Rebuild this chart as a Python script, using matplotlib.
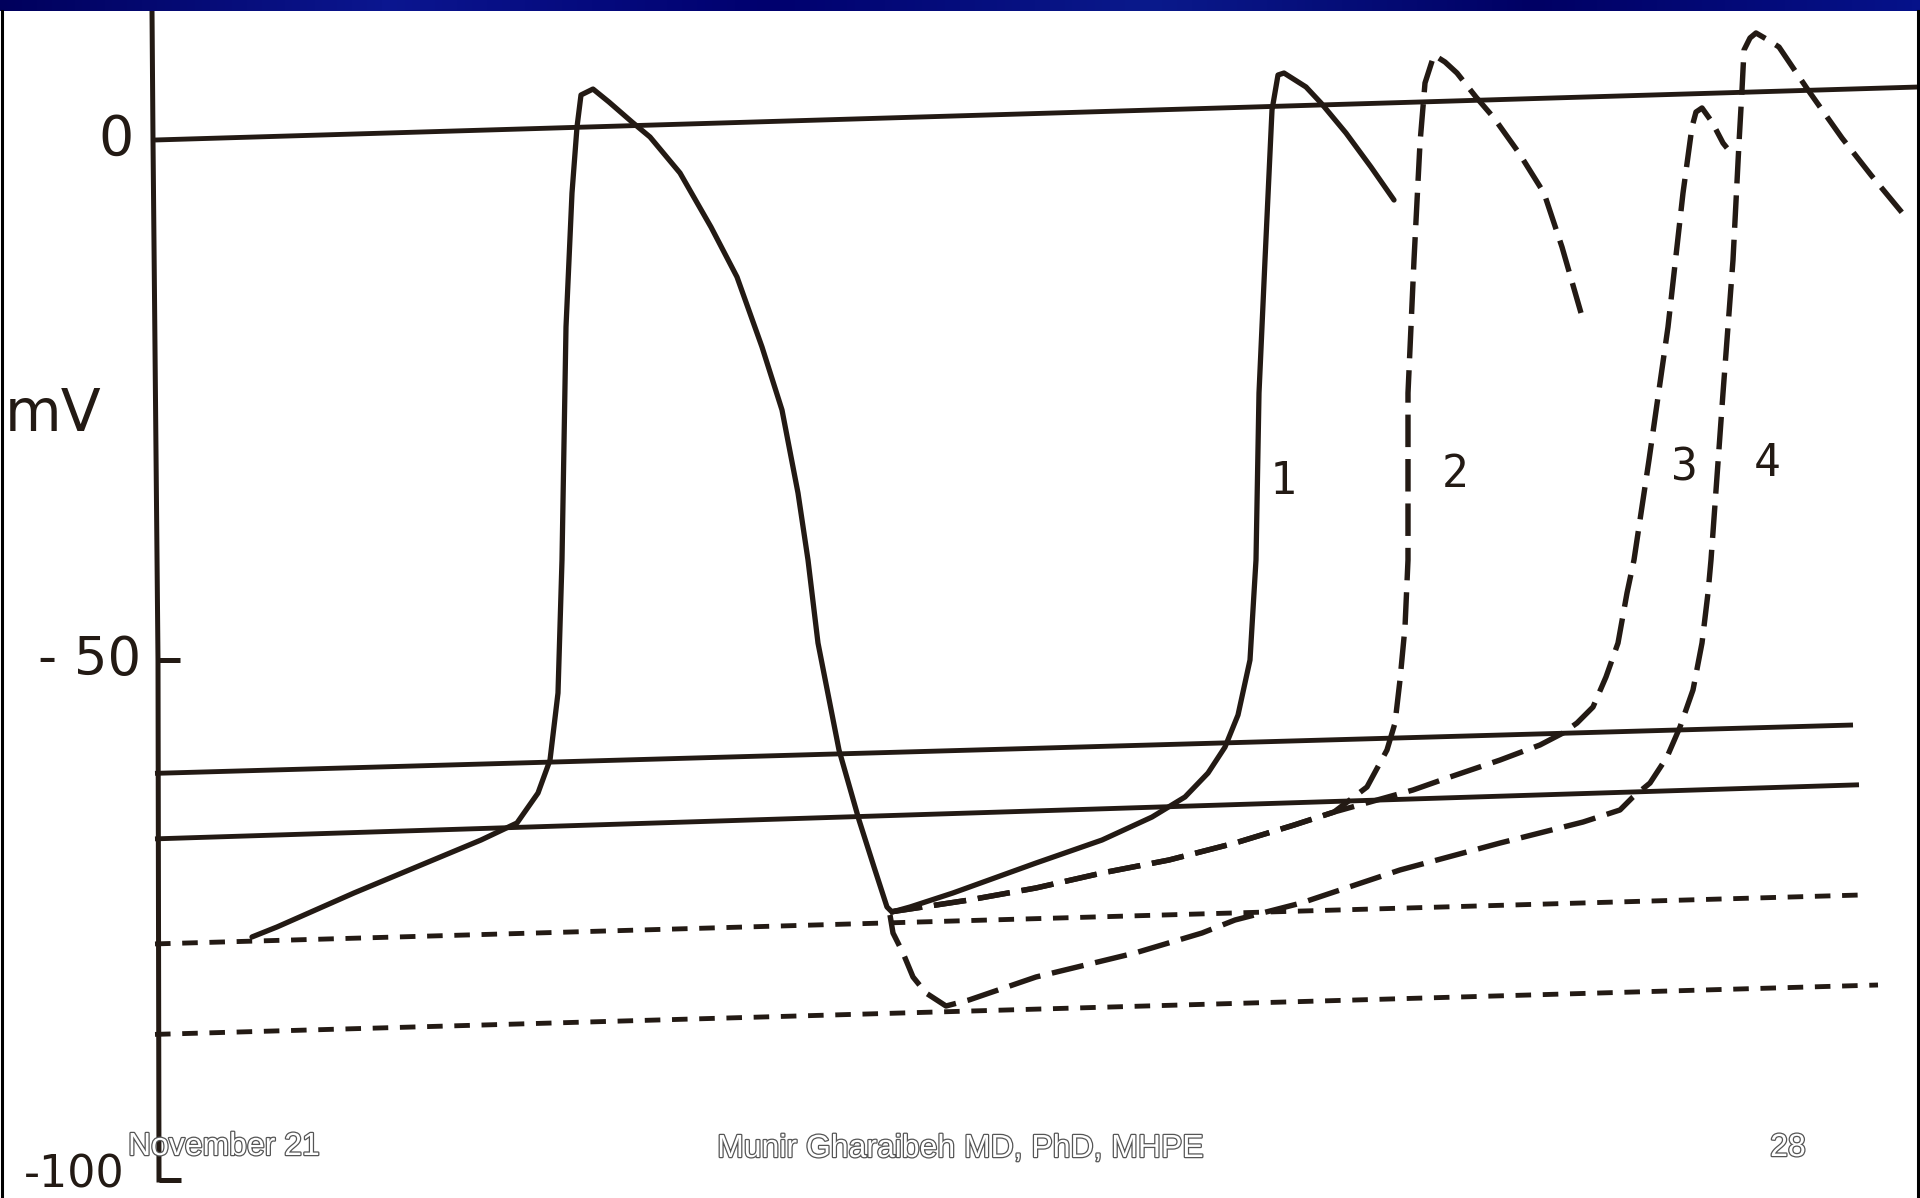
import matplotlib
matplotlib.use("Agg")
import matplotlib.pyplot as plt
import matplotlib.patheffects as pe
from matplotlib.colors import LinearSegmentedColormap
from matplotlib.lines import Line2D
import numpy as np

# Pacemaker action potentials (scanned textbook figure).
# t: time in ms from the voltage axis, v: membrane potential in mV.

# reference lines: 0 mV, two thresholds (solid), two max diastolic potentials (dashed)
zero_t = [0, 1765]
zero_v = [0.0, 5.1]
thr_hi_t = [0, 1698]
thr_hi_v = [-60.9, -56.25]
thr_lo_t = [0, 1704]
thr_lo_v = [-67.2, -62.0]
mdp_hi_t = [0, 1704]
mdp_hi_v = [-77.3, -72.6]
mdp_lo_t = [0, 1723]
mdp_lo_v = [-86.0, -81.25]

# voltage axis (the scan is a little tilted)
axis_t = [-3, -2, 3, 4]
axis_v = [12.5, 0, -50, -100]
tick_vals = [-50, -100]
tick_labels = {0: "0", -50: "- 50", -100: "-100"}

# curve 1: first action potential, normal phase 4, second action potential
c1_t = [97, 122, 199, 326, 362, 383, 395, 403, 407, 411, 417, 422, 426, 438,
        454, 477, 495, 525, 556, 582, 607, 627, 643, 653, 663, 684, 704, 719,
        732, 737, 755, 798, 881, 947, 997, 1030, 1053, 1070, 1083, 1095, 1099,
        1101, 1104, 1110, 1117, 1123, 1129, 1151, 1166, 1191, 1216, 1239]
c1_v = [-76.63, -75.67, -72.40, -67.31, -65.67, -62.79, -59.62, -53.17, -40.38,
        -17.98, -5.10, 1.25, 4.33, 4.90, 3.65, 1.73, 0.29, -3.17, -8.37, -13.17,
        -19.90, -25.96, -33.94, -40.38, -48.37, -58.65, -65.38, -69.90, -73.75,
        -74.23, -73.75, -72.40, -69.52, -67.31, -65.10, -63.17, -60.87, -58.37,
        -55.29, -50.0, -43.56, -40.38, -24.33, -11.54, 2.88, 6.25, 6.44, 5.10,
        3.56, 0.67, -2.60, -5.77]

# curves 2 and 3 share a slower phase 4 up to the lower threshold
c23_t = [735, 814, 881, 947, 1014, 1080, 1139, 1179]
c23_v = [-74.23, -73.08, -71.92, -70.48, -69.23, -67.60, -65.87, -64.62]

c2_t = [1212, 1232, 1240, 1245, 1250, 1253, 1253, 1259, 1265, 1270, 1279, 1290,
        1302, 1321, 1339, 1364, 1389, 1407, 1426]
c2_v = [-62.21, -58.65, -56.06, -51.92, -46.83, -40.38, -24.33, -11.54, -0.29,
        5.48, 8.17, 7.50, 6.44, 4.13, 2.12, -1.25, -5.10, -10.29, -16.63]

c3_t = [1258, 1295, 1345, 1385, 1408, 1422, 1438, 1451, 1463, 1472, 1479, 1494,
        1513, 1528, 1537, 1541, 1547, 1557, 1568, 1572]
c3_v = [-62.50, -61.25, -59.62, -58.17, -57.02, -56.06, -54.52, -51.63, -48.37,
        -43.56, -40.38, -30.77, -17.98, -5.10, 1.25, 2.69, 3.08, 1.73, -0.29,
        -0.77]

# curve 4: hyperpolarised maximum diastolic potential
c4_t = [735, 738, 748, 758, 771, 791, 814, 881, 980, 1047, 1080, 1146, 1245,
        1345, 1428, 1465, 1478, 1495, 1512, 1525, 1538, 1547, 1553, 1556, 1568,
        1578, 1584, 1587, 1589, 1595, 1601, 1613, 1624, 1653, 1687, 1716, 1749]
c4_v = [-74.52, -76.25, -78.17, -80.48, -82.02, -83.27, -82.69, -80.48, -78.17,
        -76.25, -75.00, -73.37, -70.19, -67.60, -65.58, -64.42, -63.17, -61.83,
        -59.33, -56.44, -52.88, -48.37, -43.56, -40.38, -24.33, -11.54, -0.29,
        4.81, 8.65, 9.81, 10.29, 9.62, 8.94, 4.81, 0.19, -3.37, -7.21]

curve_names = ["1", "2", "3", "4"]
name_t = [1128, 1300, 1529, 1612]
name_v = [-32.8, -32.2, -31.5, -31.1]

ink = "#231a14"
ref_dash = (0, (3.2, 2.4))
curve_dash = (0, (6.0, 2.2))

fig = plt.figure(figsize=(19.2, 11.98), dpi=100)
fig.patch.set_facecolor("white")
ax = fig.add_axes([0, 0, 1, 1])
ax.set_axis_off()
ax.set_xlim(-155, 1765)
ax.set_ylim((140 - 1198) / 10.4, 140 / 10.4)

# reference lines
for tt, vv, ls in [(zero_t, zero_v, "-"), (thr_hi_t, thr_hi_v, "-"),
                   (thr_lo_t, thr_lo_v, "-"), (mdp_hi_t, mdp_hi_v, ref_dash),
                   (mdp_lo_t, mdp_lo_v, ref_dash)]:
    ax.plot(tt, vv, color=ink, lw=3.5, ls=ls, solid_capstyle="butt")

# axis and ticks
ax.plot(axis_t, axis_v, color=ink, lw=3.6)
for val in tick_vals:
    t0 = np.interp(-val, [-v for v in axis_v], axis_t)
    ax.plot([t0, t0 + 22], [val, val], color=ink, lw=3.6, solid_capstyle="butt")

ax.text(-21, 0, tick_labels[0], ha="right", va="center", fontsize=40,
        color=ink, family="DejaVu Sans")
ax.text(-14, -50, tick_labels[-50], ha="right", va="center", fontsize=38,
        color=ink, family="DejaVu Sans")
# the bottom label sits on the slide edge, left of the footer text
ax.text(-30, (140 - 1196) / 10.4, tick_labels[-100], ha="right", va="bottom",
        fontsize=32, color=ink, family="DejaVu Sans")
ax.text(-150, -26.35, "mV", ha="left", va="center", fontsize=42,
        color=ink, family="DejaVu Sans")

# action potentials
ax.plot(c1_t, c1_v, color=ink, lw=3.8, solid_joinstyle="round",
        solid_capstyle="round")
ax.plot(c23_t + c2_t, c23_v + c2_v, color=ink, lw=3.9, ls=curve_dash)
ax.plot(c23_t + c3_t, c23_v + c3_v, color=ink, lw=3.9, ls=curve_dash)
ax.plot(c4_t, c4_v, color=ink, lw=3.9, ls=curve_dash)

for name, tt, vv in zip(curve_names, name_t, name_v):
    ax.text(tt, vv, name, ha="center", va="center", fontsize=32,
            color=ink, family="DejaVu Sans Mono")

# slide header bar
bar = fig.add_axes([0, 1 - 11 / 1198, 1, 11 / 1198])
bar.set_axis_off()
cmap = LinearSegmentedColormap.from_list(
    "hdr", ["#00005c", "#0b1690", "#00006e", "#0a1a8c", "#000064", "#06128a"])
bar.imshow(np.linspace(0, 1, 256)[None, :], aspect="auto", cmap=cmap,
           extent=[0, 1, 0, 1])

# thin black frame at the slide sides
for xf in [0.0008, 0.9992]:
    fig.add_artist(Line2D([xf, xf], [0, 1 - 11 / 1198], transform=fig.transFigure,
                          color="black", lw=2.2))

# slide footer
footer_fx = [pe.Stroke(linewidth=1.8, foreground="#555555"), pe.Normal()]
fig.text(128 / 1920, 1 - 1147 / 1198, "November 21", ha="left", va="center",
         fontsize=23, color="white", family="Liberation Sans",
         path_effects=footer_fx)
fig.text(961 / 1920, 1 - 1149 / 1198, "Munir Gharaibeh MD, PhD, MHPE",
         ha="center", va="center", fontsize=23, color="white",
         family="Liberation Sans", path_effects=footer_fx)
fig.text(1788 / 1920, 1 - 1148 / 1198, "28", ha="center", va="center",
         fontsize=23, color="white", family="Liberation Sans",
         path_effects=footer_fx)

fig.savefig("out.png", dpi=100, facecolor="white")
